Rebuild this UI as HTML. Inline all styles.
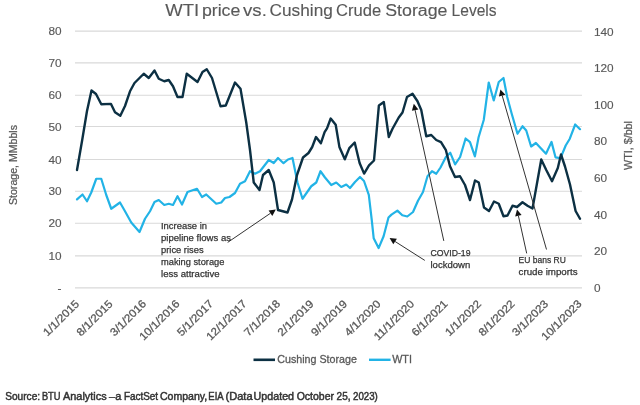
<!DOCTYPE html>
<html><head><meta charset="utf-8"><style>
html,body{margin:0;padding:0;background:#fff;}
body{width:640px;height:405px;overflow:hidden;}
svg{display:block;will-change:transform;font-family:"Liberation Sans",sans-serif;}
</style></head><body>
<svg width="640" height="405" viewBox="0 0 640 405">
<rect width="640" height="405" fill="#fff"/>
<text x="165.20" y="16.3" font-size="16" fill="#595959" stroke="#595959" stroke-width="0.12" textLength="33.90" lengthAdjust="spacingAndGlyphs">WTI</text><text x="201.90" y="16.3" font-size="16" fill="#595959" stroke="#595959" stroke-width="0.12" textLength="38.40" lengthAdjust="spacingAndGlyphs">price</text><text x="243.10" y="16.3" font-size="16" fill="#595959" stroke="#595959" stroke-width="0.12" textLength="23.70" lengthAdjust="spacingAndGlyphs">vs.</text><text x="269.60" y="16.3" font-size="16" fill="#595959" stroke="#595959" stroke-width="0.12" textLength="63.20" lengthAdjust="spacingAndGlyphs">Cushing</text><text x="336.00" y="16.3" font-size="16" fill="#595959" stroke="#595959" stroke-width="0.12" textLength="45.10" lengthAdjust="spacingAndGlyphs">Crude</text><text x="385.20" y="16.3" font-size="16" fill="#595959" stroke="#595959" stroke-width="0.12" textLength="62.30" lengthAdjust="spacingAndGlyphs">Storage</text><text x="451.60" y="16.3" font-size="16" fill="#595959" stroke="#595959" stroke-width="0.12" textLength="45.00" lengthAdjust="spacingAndGlyphs">Levels</text>
<line x1="75" y1="287.86" x2="582" y2="287.86" stroke="#d9d9d9" stroke-width="1.1"/><line x1="75" y1="255.90" x2="582" y2="255.90" stroke="#d9d9d9" stroke-width="1.1"/><line x1="75" y1="223.31" x2="582" y2="223.31" stroke="#d9d9d9" stroke-width="1.1"/><line x1="75" y1="191.31" x2="582" y2="191.31" stroke="#d9d9d9" stroke-width="1.1"/><line x1="75" y1="159.50" x2="582" y2="159.50" stroke="#d9d9d9" stroke-width="1.1"/><line x1="75" y1="126.57" x2="582" y2="126.57" stroke="#d9d9d9" stroke-width="1.1"/><line x1="75" y1="95.31" x2="582" y2="95.31" stroke="#d9d9d9" stroke-width="1.1"/><line x1="75" y1="62.86" x2="582" y2="62.86" stroke="#d9d9d9" stroke-width="1.1"/><line x1="75" y1="31.15" x2="582" y2="31.15" stroke="#d9d9d9" stroke-width="1.1"/>
<g font-size="11.8" fill="#595959" stroke="#595959" stroke-width="0.15"><text x="61.5" y="291.96" text-anchor="end">-</text><text x="61.5" y="260.00" text-anchor="end">10</text><text x="61.5" y="227.41" text-anchor="end">20</text><text x="61.5" y="195.41" text-anchor="end">30</text><text x="61.5" y="163.60" text-anchor="end">40</text><text x="61.5" y="130.67" text-anchor="end">50</text><text x="61.5" y="99.41" text-anchor="end">60</text><text x="61.5" y="66.96" text-anchor="end">70</text><text x="61.5" y="35.25" text-anchor="end">80</text><text x="594" y="291.80">0</text><text x="594" y="255.20">20</text><text x="594" y="218.60">40</text><text x="594" y="182.00">60</text><text x="594" y="145.40">80</text><text x="594" y="108.80">100</text><text x="594" y="72.20">120</text><text x="594" y="35.60">140</text></g>
<text x="17.2" y="205" font-size="10.5" fill="#595959" stroke="#595959" stroke-width="0.25" transform="rotate(-90 17.2 205)" textLength="80" lengthAdjust="spacingAndGlyphs">Storage, MMbbls</text>
<text x="632" y="170" font-size="10.5" fill="#595959" stroke="#595959" stroke-width="0.25" transform="rotate(-90 632 170)" textLength="49" lengthAdjust="spacingAndGlyphs">WTI, $/bbl</text>
<g font-size="11" fill="#595959" stroke="#595959" stroke-width="0.3"><text x="79.89" y="304.50" text-anchor="end" transform="rotate(-45 79.89 304.50)" textLength="45.68" lengthAdjust="spacingAndGlyphs">1/1/2015</text><text x="113.39" y="304.50" text-anchor="end" transform="rotate(-45 113.39 304.50)" textLength="45.68" lengthAdjust="spacingAndGlyphs">8/1/2015</text><text x="146.90" y="304.50" text-anchor="end" transform="rotate(-45 146.90 304.50)" textLength="45.68" lengthAdjust="spacingAndGlyphs">3/1/2016</text><text x="180.40" y="304.50" text-anchor="end" transform="rotate(-45 180.40 304.50)" textLength="51.76" lengthAdjust="spacingAndGlyphs">10/1/2016</text><text x="213.90" y="304.50" text-anchor="end" transform="rotate(-45 213.90 304.50)" textLength="45.68" lengthAdjust="spacingAndGlyphs">5/1/2017</text><text x="247.40" y="304.50" text-anchor="end" transform="rotate(-45 247.40 304.50)" textLength="51.76" lengthAdjust="spacingAndGlyphs">12/1/2017</text><text x="280.90" y="304.50" text-anchor="end" transform="rotate(-45 280.90 304.50)" textLength="45.68" lengthAdjust="spacingAndGlyphs">7/1/2018</text><text x="314.41" y="304.50" text-anchor="end" transform="rotate(-45 314.41 304.50)" textLength="45.68" lengthAdjust="spacingAndGlyphs">2/1/2019</text><text x="347.91" y="304.50" text-anchor="end" transform="rotate(-45 347.91 304.50)" textLength="45.68" lengthAdjust="spacingAndGlyphs">9/1/2019</text><text x="381.41" y="304.50" text-anchor="end" transform="rotate(-45 381.41 304.50)" textLength="45.68" lengthAdjust="spacingAndGlyphs">4/1/2020</text><text x="414.91" y="304.50" text-anchor="end" transform="rotate(-45 414.91 304.50)" textLength="51.76" lengthAdjust="spacingAndGlyphs">11/1/2020</text><text x="448.41" y="304.50" text-anchor="end" transform="rotate(-45 448.41 304.50)" textLength="45.68" lengthAdjust="spacingAndGlyphs">6/1/2021</text><text x="481.92" y="304.50" text-anchor="end" transform="rotate(-45 481.92 304.50)" textLength="45.68" lengthAdjust="spacingAndGlyphs">1/1/2022</text><text x="515.42" y="304.50" text-anchor="end" transform="rotate(-45 515.42 304.50)" textLength="45.68" lengthAdjust="spacingAndGlyphs">8/1/2022</text><text x="548.92" y="304.50" text-anchor="end" transform="rotate(-45 548.92 304.50)" textLength="45.68" lengthAdjust="spacingAndGlyphs">3/1/2023</text><text x="582.42" y="304.50" text-anchor="end" transform="rotate(-45 582.42 304.50)" textLength="51.76" lengthAdjust="spacingAndGlyphs">10/1/2023</text></g>
<polyline points="77,199.4 82.5,194.5 87,201.25 91.25,192.5 96.25,178.75 101.25,178.75 106.25,195 111.25,208.75 120,202.5 125,211.25 131.25,222.5 139.5,232 145,218.75 150,211.25 154.5,202 158.75,200 164.25,205 168.75,203.75 173,205 177.5,196.25 182,204.5 187.5,192 197,188.75 202,197 206.25,194.5 216.25,203.75 221.25,202.5 225,198 229.5,197 235,193 240,183.75 245,181.25 250,171.25 255,173.75 260,171.25 268.75,160 273.75,163 278,158 283.5,163.2 288,159.5 292.5,158 297.5,182.5 302.5,198.75 311.25,186.25 316.25,182.5 320.5,171.25 325,177.5 331.25,185 336.25,182.5 341.25,187 346.25,184.5 350,188 355,182 360,177 364,181 368.8,194.8 371.7,219.5 373.7,238.3 378.6,248.1 383.6,236.3 388.5,217.5 391.5,214.6 397.4,210.6 402.3,215.2 407.3,216.5 413,212 418,200.7 423,192 427.5,176.25 432,171.25 436.25,173.75 440.5,167.5 445.9,157 450.2,152.7 455.1,164.4 460.1,157 465.6,138.5 470,142.2 474.9,156.4 478.6,137.3 483.75,120 488.75,82.5 493.75,100.5 498.75,82 503.5,78 507.2,97 511.5,113 517.5,133.75 522.5,126.25 526.25,130.5 531.1,146.5 535.9,143 546,153.7 551.5,141.9 555.5,157.3 560.5,158.1 565.7,145.5 569.8,138.7 575.2,124.5 580,129.2" fill="none" stroke="#22b3e6" stroke-width="2.2" stroke-linejoin="round" stroke-linecap="round"/>
<polyline points="77,170 82.2,140 87,111 91.5,90.5 96,94 101.3,104.2 111,103.9 115,112.3 120.3,115.8 125,106 130,91.3 134.5,83 143.75,73.75 148.75,78 154.5,70.5 158.75,78.75 164.25,81.25 168.75,80 173,86.25 177.5,97 182.5,97 186.75,73.75 197.5,82 202.5,72 206.75,69.25 212,78 220.5,106.25 225.75,105.5 230,95 235,82.5 240.5,88.75 246.25,122.5 250,150 253.75,182.5 259.5,190 263,175 268.75,170 273.75,182.5 278,210 287.5,212.5 292,199.5 297,175 303,157.5 308.5,153 312.2,147 316,137 320.9,143.2 324.6,132.1 327,128.4 330.7,118.5 335.7,124.7 339.4,146.9 344.8,159.3 349.3,148.1 354.7,142.5 359.6,163 364.1,173.6 369,165.4 374,160.5 378.9,105.4 383.8,102 388.8,137 392.5,128.75 398.75,117.5 402.5,112.5 407,97 412.5,93.75 417.5,101.25 421.25,110 426.25,136.25 431.25,135 436.25,140 441,142.2 445.9,150.2 450,166.25 455,177 460,176.25 465,185 470,200 475,180.5 478.75,182.5 484,207.5 489,211 494,201.5 498.75,203.75 503.5,216.25 507.5,215.5 512.5,205.75 517,207 522.5,202.25 527.5,205.75 532.5,208.5 536.25,187.5 541.25,159.5 546.25,170 552,181.25 557.8,168 561,154.5 565,166.5 570,184.5 575.6,211 580,218.75" fill="none" stroke="#0c3043" stroke-width="2.4" stroke-linejoin="round" stroke-linecap="round"/>
<line x1="227.7" y1="242.4" x2="270.4" y2="213.3" stroke="#333" stroke-width="1"/><polygon points="275.8,209.6 272.3,216.0 268.6,210.5" fill="#111"/><line x1="443.8" y1="240.9" x2="415.1" y2="110.1" stroke="#333" stroke-width="1"/><polygon points="413.8,103.8 418.4,109.4 411.9,110.8" fill="#111"/><line x1="424.8" y1="260.4" x2="395.1" y2="241.5" stroke="#333" stroke-width="1"/><polygon points="389.6,238.0 396.9,238.7 393.3,244.3" fill="#111"/><line x1="546.5" y1="249.5" x2="502.2" y2="95.6" stroke="#333" stroke-width="1"/><polygon points="500.4,89.4 505.4,94.7 499.0,96.6" fill="#111"/><line x1="526.7" y1="253.4" x2="518.4" y2="215.8" stroke="#333" stroke-width="1"/><polygon points="517.0,209.5 521.6,215.1 515.2,216.6" fill="#111"/>
<g font-size="9.5" fill="#333333" stroke="#333333" stroke-width="0.25">
<text x="161" y="228.6" textLength="46" lengthAdjust="spacingAndGlyphs">Increase in</text>
<text x="161" y="240.6" textLength="70" lengthAdjust="spacingAndGlyphs">pipeline flows as</text>
<text x="161" y="253.1" textLength="42.6" lengthAdjust="spacingAndGlyphs">price rises</text>
<text x="161" y="265.1" textLength="63.4" lengthAdjust="spacingAndGlyphs">making storage</text>
<text x="161" y="277.4" textLength="58.6" lengthAdjust="spacingAndGlyphs">less attractive</text>
<text x="430.5" y="255.8" textLength="40" lengthAdjust="spacingAndGlyphs">COVID-19</text>
<text x="430.5" y="267.8" textLength="39.8" lengthAdjust="spacingAndGlyphs">lockdown</text>
<text x="518.6" y="262.8" textLength="47.2" lengthAdjust="spacingAndGlyphs">EU bans RU</text>
<text x="518.6" y="275" textLength="59" lengthAdjust="spacingAndGlyphs">crude imports</text>
</g>
<line x1="253.5" y1="359.8" x2="275" y2="359.8" stroke="#0c3043" stroke-width="2.6"/>
<line x1="369" y1="359.8" x2="390.6" y2="359.8" stroke="#22b3e6" stroke-width="2.4"/>
<g font-size="11" fill="#595959" stroke="#595959" stroke-width="0.3">
<text x="277.3" y="362.5" textLength="79.6" lengthAdjust="spacingAndGlyphs">Cushing Storage</text>
<text x="392.2" y="362.5" textLength="19.7" lengthAdjust="spacingAndGlyphs">WTI</text>
</g>
<text x="5.20" y="399.7" font-size="10.2" fill="#333333" stroke="#333333" stroke-width="0.45" textLength="34.90" lengthAdjust="spacingAndGlyphs">Source:</text><text x="41.90" y="399.7" font-size="10.2" fill="#333333" stroke="#333333" stroke-width="0.45" textLength="18.60" lengthAdjust="spacingAndGlyphs">BTU</text><text x="63.00" y="399.7" font-size="10.2" fill="#333333" stroke="#333333" stroke-width="0.45" textLength="43.60" lengthAdjust="spacingAndGlyphs">Analytics</text><text x="109.10" y="399.7" font-size="10.2" fill="#333333" stroke="#333333" stroke-width="0.45" textLength="6.00" lengthAdjust="spacingAndGlyphs">–</text><text x="115.30" y="399.7" font-size="10.2" fill="#333333" stroke="#333333" stroke-width="0.45" textLength="6.10" lengthAdjust="spacingAndGlyphs">a</text><text x="123.90" y="399.7" font-size="10.2" fill="#333333" stroke="#333333" stroke-width="0.45" textLength="34.20" lengthAdjust="spacingAndGlyphs">FactSet</text><text x="159.90" y="399.7" font-size="10.2" fill="#333333" stroke="#333333" stroke-width="0.45" textLength="47.40" lengthAdjust="spacingAndGlyphs">Company,</text><text x="208.30" y="399.7" font-size="10.2" fill="#333333" stroke="#333333" stroke-width="0.45" textLength="15.40" lengthAdjust="spacingAndGlyphs">EIA</text><text x="225.50" y="399.7" font-size="10.2" fill="#333333" stroke="#333333" stroke-width="0.45" textLength="27.10" lengthAdjust="spacingAndGlyphs">(Data</text><text x="253.60" y="399.7" font-size="10.2" fill="#333333" stroke="#333333" stroke-width="0.45" textLength="40.45" lengthAdjust="spacingAndGlyphs">Updated</text><text x="296.70" y="399.7" font-size="10.2" fill="#333333" stroke="#333333" stroke-width="0.45" textLength="37.35" lengthAdjust="spacingAndGlyphs">October</text><text x="336.60" y="399.7" font-size="10.2" fill="#333333" stroke="#333333" stroke-width="0.45" textLength="13.90" lengthAdjust="spacingAndGlyphs">25,</text><text x="353.00" y="399.7" font-size="10.2" fill="#333333" stroke="#333333" stroke-width="0.45" textLength="24.80" lengthAdjust="spacingAndGlyphs">2023)</text>
</svg>
</body></html>
